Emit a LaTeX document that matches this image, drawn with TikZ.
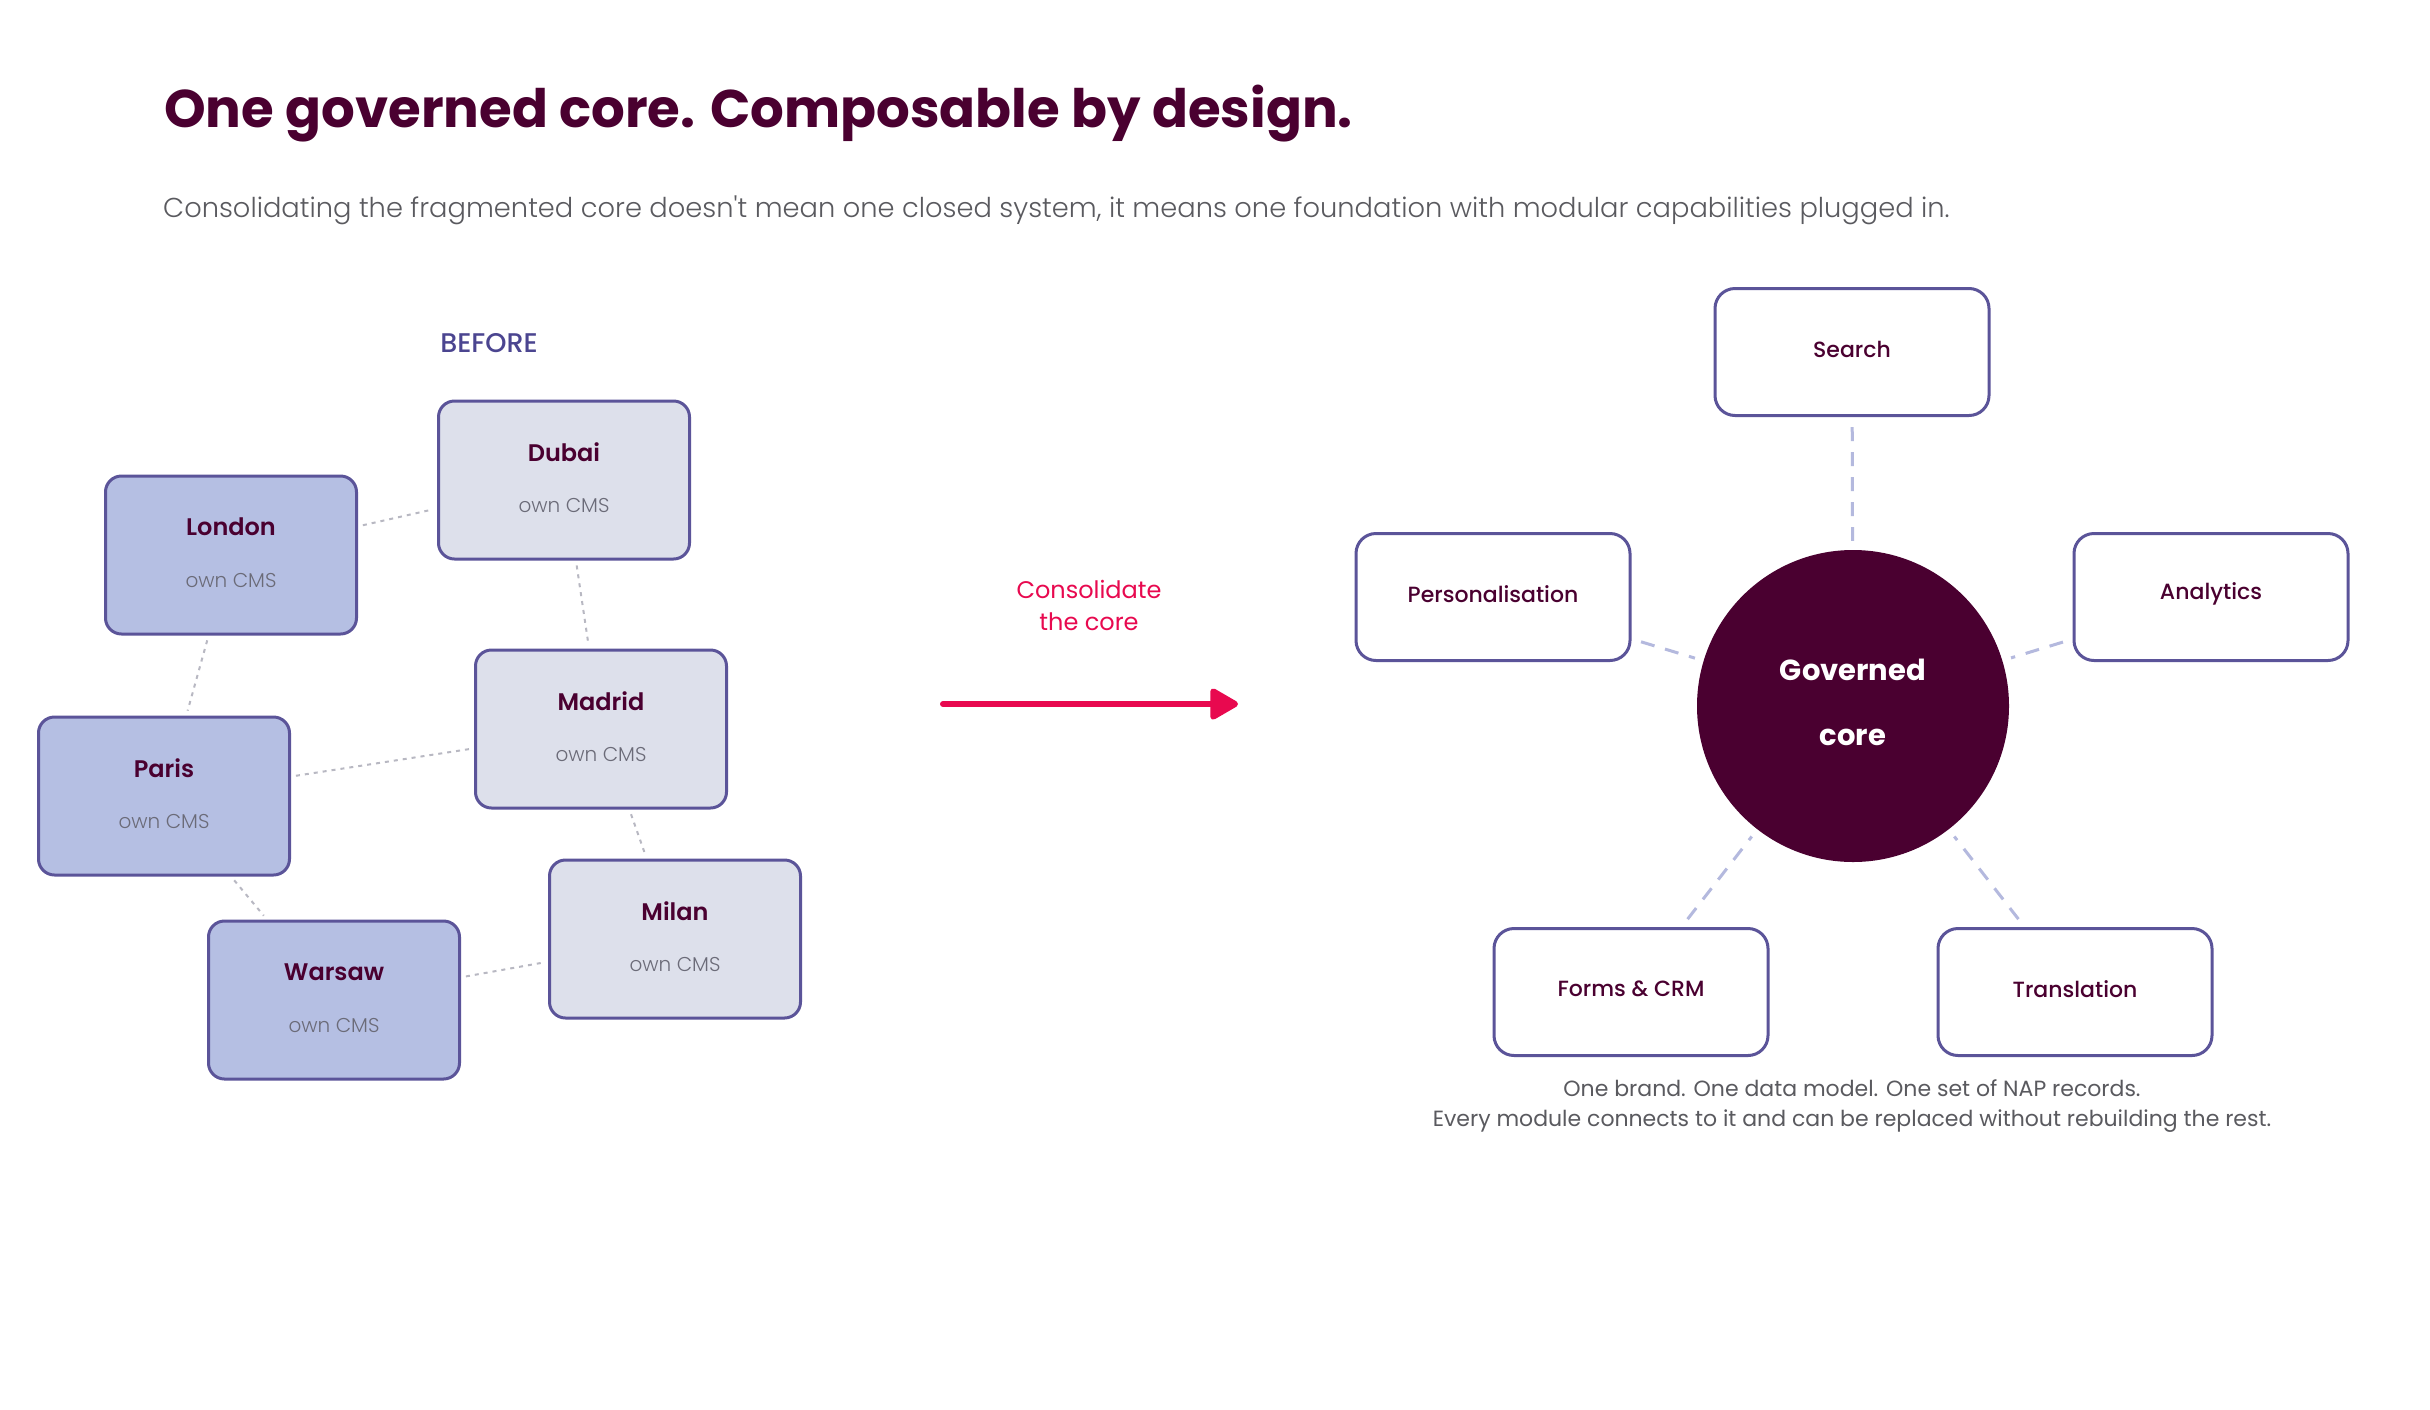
\documentclass[tikz,border=0pt]{standalone}
\usepackage{fontspec}
\setmainfont{Poppins}
\newfontfamily\popbold{Poppins Bold}
\newfontfamily\popsemi{Poppins SemiBold}
\newfontfamily\popmed{Poppins Medium}
\newfontfamily\poplight{Poppins Light}
\newfontfamily\popreg{Poppins}
\usetikzlibrary{arrows.meta}
\definecolor{burg}{HTML}{4A0030}
\definecolor{boxline}{HTML}{5B5499}
\definecolor{darkfill}{HTML}{B5BFE3}
\definecolor{lightfill}{HTML}{DDE0EB}
\definecolor{dotgrey}{HTML}{B8B8C2}
\definecolor{lav}{HTML}{B4B9DE}
\definecolor{pinkred}{HTML}{E8094F}
\definecolor{greytext}{HTML}{5A5A5F}
\definecolor{cmsgrey}{HTML}{6B6B78}
\definecolor{beforecol}{HTML}{4B4590}
\tikzset{
  citybox/.style={draw=boxline, line width=3pt, rounded corners=16pt, minimum width=251pt, minimum height=158pt, inner sep=0pt},
  darkcity/.style={citybox, fill=darkfill},
  lightcity/.style={citybox, fill=lightfill},
  cityname/.style={text=burg, font=\popsemi\fontsize{24}{28}\selectfont, inner sep=0pt},
  cmslabel/.style={text=cmsgrey, font=\poplight\fontsize{20}{24}\selectfont, inner sep=0pt},
  citylink/.style={dotgrey, line width=2pt, dash pattern=on 4pt off 5pt, shorten >=5pt, shorten <=5pt},
  modbox/.style={draw=boxline, line width=3pt, rounded corners=20pt, fill=white, minimum width=274pt, minimum height=127pt},
  modlabel/.style={text=burg, font=\popmed\fontsize{22}{26}\selectfont, inner sep=0pt},
  modlink/.style={lav, line width=3pt, dash pattern=on 14pt off 11pt, shorten >=9pt, shorten <=10pt},
}
\newcommand{\citynode}[5]{%
  \node[#4] (#1) at (#2,#3) {};
  \node[cityname] (#1-n) at (#2,#3-28) {#5};
  \node[cmslabel] (#1-s) at (#2,#3+25) {own CMS};
}
\newcommand{\modnode}[4]{%
  \node[modbox] (#1) at (#2,#3) {};
  \node[modlabel] (#1-t) at (#2,#3-3) {#4};
}
\begin{document}
\begin{tikzpicture}[x=1pt,y=-1pt]
\useasboundingbox[fill=white] (0,0) rectangle (2430,1409);
% title
\node[anchor=base west, inner sep=0pt, text=burg, font=\popbold\fontsize{53}{60}\selectfont] (title) at (164,127) {One governed core. Composable by design.};
\node[anchor=base west, inner sep=0pt, text=greytext, font=\poplight\fontsize{27.3}{32}\selectfont] (subtitle) at (163,217) {Consolidating the fragmented core doesn't mean one closed system, it means one foundation with modular capabilities plugged in.};
% before
\node[anchor=base, inner sep=0pt, text=beforecol, font=\popmed\fontsize{27}{32}\selectfont] (before) at (489,352) {BEFORE};
\citynode{london}{231}{555}{darkcity}{London}
\citynode{dubai}{564}{480}{lightcity}{Dubai}
\citynode{madrid}{601}{729}{lightcity}{Madrid}
\citynode{paris}{164}{796}{darkcity}{Paris}
\citynode{milan}{675}{939}{lightcity}{Milan}
\citynode{warsaw}{334}{1000}{darkcity}{Warsaw}
\draw[citylink] (london) -- (dubai);
\draw[citylink] (dubai) -- (madrid);
\draw[citylink] (london) -- (paris);
\draw[citylink] (paris) -- (madrid);
\draw[citylink] (madrid) -- (milan);
\draw[citylink] (paris) -- (warsaw);
\draw[citylink] (warsaw) -- (milan);
% arrow
\node[align=center, inner sep=0pt, text=pinkred, font=\popreg\fontsize{24}{32}\selectfont, anchor=base] (cons) at (1089,630) {Consolidate\\the core};
\coordinate (a0) at (943,704);
\coordinate (a1) at (1238,704);
\draw[pinkred, line width=6pt, line cap=round, -{Triangle[round, length=31pt, width=34pt]}] (a0) -- (a1);
% right side
\node[circle, fill=burg, minimum size=312pt, inner sep=0pt] (core) at (1853,706) {};
\node[text=white, font=\popbold\fontsize{29}{34}\selectfont, inner sep=0pt] (core-a) at (1853,670) {Governed};
\node[text=white, font=\popbold\fontsize{29}{34}\selectfont, inner sep=0pt] (core-b) at (1853,737) {core};
\modnode{search}{1852}{352}{Search}
\modnode{pers}{1493}{597}{Personalisation}
\modnode{analytics}{2211}{597}{Analytics}
\modnode{forms}{1631}{992}{Forms \& CRM}
\modnode{trans}{2075}{992}{Translation}
\draw[modlink] (search) -- (core);
\draw[modlink] (pers) -- (core);
\draw[modlink] (analytics) -- (core);
\draw[modlink] (forms) -- (core);
\draw[modlink] (trans) -- (core);
\node[anchor=base, inner sep=0pt, text=greytext, font=\popreg\fontsize{22}{30}\selectfont] (cap1) at (1852,1096) {One brand. One data model. One set of NAP records.};
\node[anchor=base, inner sep=0pt, text=greytext, font=\popreg\fontsize{22}{30}\selectfont] (cap2) at (1852,1126) {Every module connects to it and can be replaced without rebuilding the rest.};
\end{tikzpicture}
\end{document}
